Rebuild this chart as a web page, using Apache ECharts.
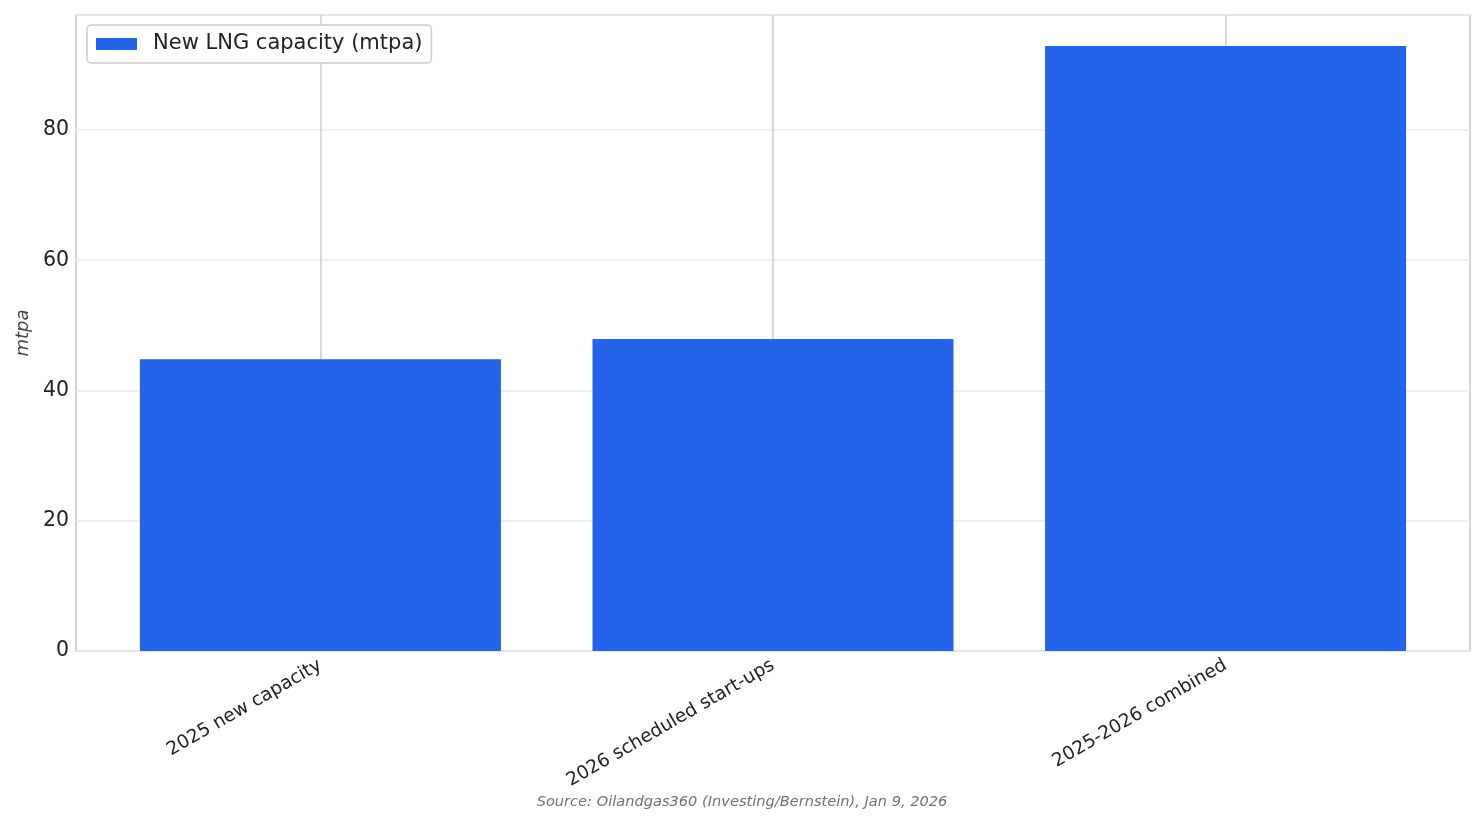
<!DOCTYPE html>
<html>
<head>
<meta charset="utf-8">
<script src="https://cdn.jsdelivr.net/npm/echarts@6/dist/echarts.min.js"></script>
<style>
  html, body { margin: 0; padding: 0; background: #fff; }
  #chart { width: 1484px; height: 824px; }
</style>
</head>
<body>
<div id="chart"></div>
<script>
  // data
  var categories = ['2025 new capacity', '2026 scheduled start-ups', '2025-2026 combined'];
  var capacity = [44.8, 47.9, 92.9];
  var yTicks = [0, 20, 40, 60, 80];

  var chart = echarts.init(document.getElementById('chart'));
  var font = 'DejaVu Sans';

  chart.setOption({
    animation: false,
    textStyle: { fontFamily: font },
    grid: {
      left: 76, right: 14, top: 15, bottom: 173,
      show: true, borderColor: '#c8c8c8', borderWidth: 1.5
    },
    legend: {
      left: 87, top: 25,
      padding: [7, 9, 7, 9],
      borderColor: '#cccccc', borderWidth: 1.5, borderRadius: 4,
      backgroundColor: '#fff',
      itemWidth: 41, itemHeight: 12,
      icon: 'rect',
      textStyle: { fontSize: 21, lineHeight: 22, color: '#222', padding: [2, 0, 0, 11], fontFamily: font },
      data: ['New LNG capacity (mtpa)']
    },
    xAxis: {
      type: 'value',
      min: -0.54, max: 2.54,
      axisLine: { show: false },
      axisTick: { show: false },
      splitLine: { show: false },
      axisLabel: {
        customValues: [0, 1, 2],
        rotate: 30,
        fontSize: 18.5,
        color: '#222',
        margin: 13,
        formatter: function (v) { return categories[Math.round(v)] || ''; }
      }
    },
    yAxis: {
      type: 'value',
      min: 0, max: 97.65,
      name: 'mtpa',
      nameLocation: 'middle',
      nameGap: 43,
      nameRotate: 90,
      nameTextStyle: { fontSize: 18, fontStyle: 'italic', color: '#444', fontFamily: font },
      axisLine: { show: false },
      axisTick: { show: false },
      splitLine: { lineStyle: { color: '#ebebeb', width: 1.5 } },
      axisLabel: {
        customValues: yTicks,
        fontSize: 20.5, color: '#222', margin: 7,
        padding: [5, 0, 0, 0]
      }
    },
    series: [{
      name: 'New LNG capacity (mtpa)',
      type: 'bar',
      barWidth: 361,
      z: 2,
      itemStyle: { color: '#2563eb' },
      data: capacity.map(function (v, i) { return [i, v]; }),
      markLine: {
        silent: true,
        symbol: 'none',
        z: 1,
        label: { show: false },
        lineStyle: { color: '#cccccc', width: 1.5, type: 'solid' },
        data: categories.map(function (c, i) { return { xAxis: i }; })
      }
    }],
    graphic: [{
      type: 'text',
      left: 'center',
      top: 795,
      style: {
        text: 'Source: Oilandgas360 (Investing/Bernstein), Jan 9, 2026',
        fontSize: 14.6, fontStyle: 'italic', fill: '#6b7280', fontFamily: font
      }
    }]
  });
</script>
</body>
</html>
